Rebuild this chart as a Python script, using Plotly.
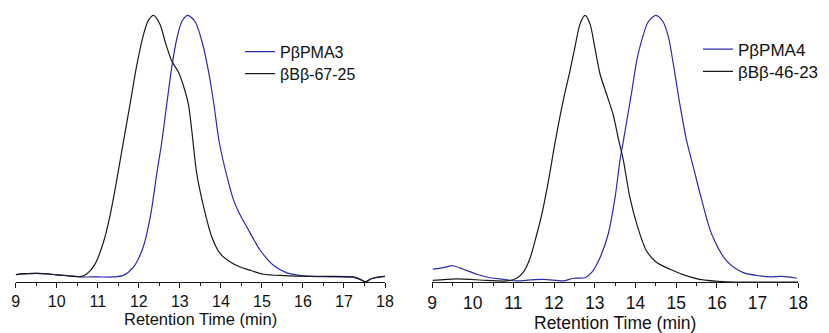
import plotly.graph_objects as go

# Left panel data (normalized intensity)
t_pbpma3 = [9.0, 9.5, 10.0, 10.3, 10.6, 11.0, 11.38, 11.62, 11.87, 12.11, 12.28, 12.44, 12.56, 12.68, 12.8,
            12.93, 13.05, 13.19, 13.37, 13.54, 13.7, 13.82, 13.96, 14.15, 14.31, 14.47, 14.63, 14.96,
            15.28, 15.61, 16.01, 16.67, 17.23, 17.4, 17.52, 17.68, 17.85, 18.0]
v_pbpma3 = [0.028, 0.032, 0.027, 0.023, 0.019, 0.019, 0.019, 0.025, 0.056, 0.132, 0.244, 0.408, 0.525, 0.665, 0.802,
            0.915, 0.977, 1.0, 0.977, 0.902, 0.789, 0.677, 0.525, 0.395, 0.307, 0.251, 0.207, 0.119,
            0.063, 0.034, 0.023, 0.019, 0.017, 0.009, 0.001, 0.013, 0.019, 0.021]

t_bbb6725 = [9.0, 9.5, 10.0, 10.3, 10.57, 10.73, 10.93, 11.14, 11.3, 11.46, 11.62, 11.79, 11.95, 12.11, 12.23,
             12.36, 12.52, 12.64, 12.8, 12.97, 13.09, 13.21, 13.29, 13.41, 13.58, 13.78, 13.98, 14.23,
             14.47, 14.75, 15.04, 15.53, 16.26, 17.23, 17.4, 17.52, 17.68, 17.85, 18.0]
v_bbb6725 = [0.028, 0.032, 0.027, 0.023, 0.020, 0.030, 0.066, 0.150, 0.250, 0.380, 0.522, 0.670, 0.812, 0.925, 0.980,
             1.0, 0.965, 0.902, 0.830, 0.786, 0.735, 0.665, 0.57, 0.408, 0.282, 0.169, 0.107, 0.075,
             0.056, 0.042, 0.029, 0.024, 0.021, 0.019, 0.010, 0.001, 0.013, 0.018, 0.021]

# Right panel data
t_pbpma4 = [9.02, 9.28, 9.52, 9.77, 10.1, 10.43, 10.75, 11.08, 11.41, 11.73, 12.06, 12.23, 12.47, 12.76, 12.92,
            13.13, 13.33, 13.5, 13.62, 13.7, 13.91, 14.03, 14.15, 14.31, 14.5, 14.68, 14.81, 14.93, 15.09,
            15.26, 15.42, 15.63, 15.87, 16.24, 16.65, 17.06, 17.3, 17.6, 17.96]
v_pbpma4 = [0.048, 0.054, 0.061, 0.048, 0.029, 0.016, 0.010, 0.004, 0.008, 0.010, 0.006, 0.004, 0.014, 0.016, 0.035,
            0.092, 0.18, 0.319, 0.458, 0.527, 0.716, 0.83, 0.905, 0.975, 1.0, 0.975, 0.918, 0.817, 0.666,
            0.527, 0.432, 0.306, 0.18, 0.079, 0.035, 0.023, 0.019, 0.021, 0.014]

t_bbb4623 = [9.02, 9.6, 10.34, 10.83, 11.08, 11.25, 11.4, 11.55, 11.7, 11.86, 12.02, 12.23, 12.39, 12.51, 12.64, 12.76,
             12.88, 13.0, 13.13, 13.29, 13.45, 13.58, 13.7, 13.86, 14.03, 14.27, 14.52, 14.85, 15.26,
             15.58, 16.24, 17.0, 18.0]
v_bbb4623 = [0.006, 0.012, 0.006, 0.004, 0.014, 0.038, 0.085, 0.165, 0.255, 0.378, 0.52, 0.685, 0.792, 0.88, 0.969, 1.0,
             0.969, 0.88, 0.779, 0.704, 0.628, 0.537, 0.458, 0.319, 0.218, 0.117, 0.073, 0.048, 0.023,
             0.010, 0.001, 0.0, 0.0]

x_ticks = [9, 10, 11, 12, 13, 14, 15, 16, 17, 18]
x_title = "Retention Time (min)"

BLUE = "#2b2bb0"
BLACK = "#1a1a1a"
FONT = "Liberation Sans, Arial, sans-serif"
NARROW = "Liberation Sans Narrow, Arial Narrow, Liberation Sans, sans-serif"

W, H = 829, 333
TOP, BOT = 2.4, 51.3
PH = H - TOP - BOT

def ypaper(px):
    return 1 - (px - TOP) / PH

fig = go.Figure()
fig.add_trace(go.Scatter(x=t_pbpma3, y=v_pbpma3, mode="lines", name="PβPMA3",
                         line=dict(color=BLUE, width=1.2, shape="spline", smoothing=0.8),
                         xaxis="x", yaxis="y", legend="legend"))
fig.add_trace(go.Scatter(x=t_bbb6725, y=v_bbb6725, mode="lines", name="βBβ-67-25",
                         line=dict(color=BLACK, width=1.2, shape="spline", smoothing=0.8),
                         xaxis="x", yaxis="y", legend="legend2"))
fig.add_trace(go.Scatter(x=t_pbpma4, y=v_pbpma4, mode="lines", name="PβPMA4",
                         line=dict(color=BLUE, width=1.2, shape="spline", smoothing=0.8),
                         xaxis="x2", yaxis="y2", legend="legend3"))
fig.add_trace(go.Scatter(x=t_bbb4623, y=v_bbb4623, mode="lines", name="βBβ-46-23",
                         line=dict(color=BLACK, width=1.2, shape="spline", smoothing=0.8),
                         xaxis="x2", yaxis="y2", legend="legend4"))

XD1 = [15.7 / W, 385 / W]
XD2 = [432 / W, 798.3 / W]

def xaxis(domain, tickfont):
    return dict(domain=domain, range=[9, 18], tickvals=x_ticks, ticktext=[str(v) for v in x_ticks],
                showline=True, linecolor=BLACK, linewidth=1, ticks="outside", ticklen=5,
                tickcolor=BLACK, tickwidth=1, showgrid=False, zeroline=False,
                minor=dict(dtick=0.5, ticks="outside", ticklen=3, tickcolor=BLACK, tickwidth=1, showgrid=False),
                tickfont=dict(family=NARROW, size=tickfont, color="#111"),
                automargin=False)


def leg(x, ytop, size):
    return dict(x=x / W, y=ypaper(ytop), xanchor="left", yanchor="top",
                font=dict(family=FONT, size=size, color="#111"), bgcolor="rgba(0,0,0,0)",
                itemwidth=30)

yax = dict(range=[0, 1.05], visible=False, showgrid=False, zeroline=False)

fig.update_layout(
    width=W, height=H,
    margin=dict(l=0, r=0, t=TOP, b=BOT),
    paper_bgcolor="white", plot_bgcolor="white",
    xaxis=xaxis(XD1, 16),
    xaxis2=xaxis(XD2, 17.5),
    yaxis=dict(**yax, anchor="x"),
    yaxis2=dict(**yax, anchor="x2"),
    legend=leg(240, 35, 16),
    legend2=leg(240, 57, 16),
    legend3=leg(698, 32, 17),
    legend4=leg(698, 54, 17),
    showlegend=True,
    annotations=[
        dict(text=x_title, xref="paper", yref="paper", x=sum(XD1) / 2, y=ypaper(319),
             xanchor="center", yanchor="middle", showarrow=False,
             font=dict(family=FONT, size=16.5, color="#111")),
        dict(text=x_title, xref="paper", yref="paper", x=sum(XD2) / 2, y=ypaper(322.5),
             xanchor="center", yanchor="middle", showarrow=False,
             font=dict(family=FONT, size=17.5, color="#111")),
    ],
)

fig.write_html("out.html")
